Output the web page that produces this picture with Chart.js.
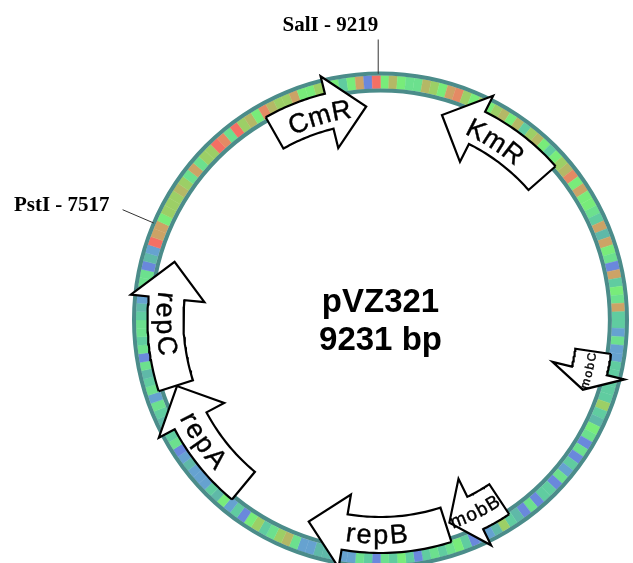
<!DOCTYPE html>
<html>
<head>
<meta charset="utf-8">
<title>pVZ321</title>
<script src="https://cdn.jsdelivr.net/npm/chart.js@4"></script>
<style>
  html, body { margin: 0; padding: 0; background: #fff; overflow: hidden; height: 563px; }
  canvas { display: block; filter: blur(0.5px); }
</style>
</head>
<body>
<canvas id="plasmid" width="633" height="570"></canvas>
<script>
/* ===== Dados do plasmídeo ===== */
const plasmidName = 'pVZ321';
const plasmidLength = 9231;

const geneNames = ['repB', 'mobB', 'mobC', 'KmR', 'CmR', 'repA', 'repC'];
const geneStarts = [4161, 3756, 2523, 1249, 8474, 5631, 6467];
const geneEnds = [5118, 4134, 2795, 428, 9133, 6462, 7328];

const siteNames = ['SalI', 'PstI'];
const sitePositions = [9219, 7517];

// Conteúdo local por janela (nível 0 a 10), sentido horário a partir do topo
const contentLevels = [
  5, 7, 5, 4, 4, 7, 6, 5, 8, 9, 6, 5, 6, 5, 6, 7, 5, 7, 3, 6,
  7, 5, 3, 5, 6, 7, 9, 5, 8, 5, 5, 4, 3, 8, 2, 8, 5, 4, 0, 8,
  3, 5, 4, 8, 3, 3, 1, 4, 1, 1, 3, 3, 3, 3, 3, 6, 3, 2, 5, 4,
  0, 4, 0, 3, 1, 4, 0, 3, 3, 0, 4, 0, 2, 3, 6, 2, 1, 1, 0, 3,
  5, 4, 3, 4, 3, 0, 3, 5, 3, 4, 0, 3, 4, 1, 1, 1, 2, 2, 1, 1,
  4, 7, 6, 4, 3, 6, 5, 0, 3, 1, 5, 2, 3, 1, 1, 1, 2, 1, 0, 4,
  3, 3, 2, 3, 4, 1, 4, 3, 2, 4, 0, 4, 3, 4, 4, 3, 2, 1, 2, 4,
  4, 0, 2, 1, 10, 8, 8, 5, 6, 6, 6, 7, 6, 4, 8, 4, 6, 6, 10, 9,
  4, 10, 6, 7, 5, 9, 7, 6, 6, 8, 5, 5, 6, 5, 5, 3, 5, 8, 0, 10
];

/* ===== Paleta e geometria ===== */
const LEVEL_COLORS = [
  '#6a88dc', '#66a2d0', '#5fb9a8', '#60cca0', '#6ce08e', '#78ec7a',
  '#9ccf66', '#b4b866', '#cca366', '#e48a64', '#f47064'
];
const RIM_COLOR = '#4b8c8a';
const RING_RADIUS = 248.5;
const BODY_INNER = 197;
const BODY_OUTER = 233;
const BODY_MID = 214;
const HEAD_INNER = 177;
const HEAD_OUTER = 251;
const HEAD_MAX_BP = 256;
const LABEL_FONTS = { repB: 27, mobB: 19, mobC: 12, KmR: 27, CmR: 27, repA: 27, repC: 27 };
const LABEL_TRACKING = { repB: 1.5, mobB: 1, mobC: 1.5, KmR: 1.5, CmR: 1.5, repA: 1.5, repC: 1.5 };

function polar(bp, r) {
  const a = bp / plasmidLength * 2 * Math.PI;
  return { x: r * Math.sin(a), y: r * Math.cos(a) };
}

// Contorno da seta: corpo curvo + cabeça
function arrowOutline(start, end) {
  const dir = end > start ? 1 : -1;
  const span = Math.abs(end - start);
  const neck = end - dir * Math.min(HEAD_MAX_BP, span / 2);
  const pts = [];
  const steps = 24;
  for (let i = 0; i <= steps; i++) {
    pts.push(polar(start + (neck - start) * i / steps, BODY_OUTER));
  }
  pts.push(polar(neck, HEAD_OUTER), polar(end, BODY_MID), polar(neck, HEAD_INNER));
  for (let i = steps; i >= 0; i--) {
    pts.push(polar(start + (neck - start) * i / steps, BODY_INNER));
  }
  pts.push(pts[0]);
  return pts;
}

/* ===== Textos ===== */
const labelsPlugin = {
  id: 'plasmidLabels',
  afterDatasetsDraw(chart) {
    const { ctx, scales: { x, y } } = chart;
    const cx = x.getPixelForValue(0);
    const cy = y.getPixelForValue(0);

    ctx.save();
    ctx.fillStyle = '#000';
    ctx.strokeStyle = '#000';
    ctx.lineWidth = 0.4;
    ctx.textAlign = 'center';
    ctx.textBaseline = 'alphabetic';

    geneNames.forEach((name, i) => {
      const midBp = (geneStarts[i] + geneEnds[i]) / 2;
      const mid = midBp / plasmidLength * 2 * Math.PI;
      const deg = mid * 180 / Math.PI;
      const inward = deg > 90 && deg < 300;
      const size = LABEL_FONTS[name];
      const track = LABEL_TRACKING[name];
      ctx.font = size + 'px "Liberation Sans"';

      const widths = [...name].map(c => ctx.measureText(c).width);
      const total = widths.reduce((a, b) => a + b, 0) + track * (name.length - 1);
      const radius = inward ? BODY_MID + size * 0.36 : BODY_MID - size * 0.36;
      let s = -total / 2;
      [...name].forEach((c, j) => {
        const along = (s + widths[j] / 2) / BODY_MID;
        const a = inward ? mid - along : mid + along;
        ctx.save();
        ctx.translate(cx + radius * Math.sin(a), cy - radius * Math.cos(a));
        ctx.rotate(inward ? a - Math.PI : a);
        ctx.fillText(c, 0, 0);
        ctx.strokeText(c, 0, 0);
        ctx.restore();
        s += widths[j] + track;
      });
    });

    // Nome e tamanho no centro
    ctx.font = 'bold 33px "Liberation Sans"';
    ctx.fillText(plasmidName, cx, cy - 8);
    ctx.fillText(plasmidLength + ' bp', cx, cy + 30);

    // Sítios de restrição
    ctx.font = 'bold 21px "Liberation Serif"';
    ctx.textAlign = 'right';
    siteNames.forEach((name, i) => {
      const end = polar(sitePositions[i], RING_RADIUS + 32);
      const px = x.getPixelForValue(end.x);
      const py = y.getPixelForValue(end.y);
      const nearTop = Math.abs(end.x) < 30;
      ctx.fillText(name + ' - ' + sitePositions[i], nearTop ? px : px - 13, nearTop ? py - 9 : py + 1);
    });
    ctx.restore();
  }
};

/* ===== Datasets ===== */
const rimRing = weight => ({
  type: 'doughnut',
  data: [1],
  weight: weight,
  backgroundColor: [RIM_COLOR],
  borderWidth: 0,
  order: 20,
});

const bandRing = {
  type: 'doughnut',
  data: contentLevels.map(() => 1),
  weight: 13,
  backgroundColor: contentLevels.map(v => LEVEL_COLORS[v]),
  borderColor: contentLevels.map(v => LEVEL_COLORS[v]),
  borderWidth: 0.4,
  order: 21,
};

const geneArrows = geneNames.map((name, i) => ({
  type: 'line',
  label: name,
  data: arrowOutline(geneStarts[i], geneEnds[i]),
  weight: 0,
  borderColor: '#000',
  borderWidth: 2.2,
  borderJoinStyle: 'miter',
  backgroundColor: '#fff',
  fill: 'shape',
  tension: 0,
  pointRadius: 0,
  clip: false,
  order: 10 - i,
}));

const siteTicks = siteNames.map((name, i) => ({
  type: 'line',
  label: name,
  data: [polar(sitePositions[i], RING_RADIUS - 2), polar(sitePositions[i], RING_RADIUS + 32)],
  weight: 0,
  borderColor: '#333',
  borderWidth: 1,
  fill: false,
  pointRadius: 0,
  clip: false,
  order: 15,
}));

new Chart(document.getElementById('plasmid'), {
  type: 'scatter',
  data: {
    datasets: [rimRing(4), bandRing, rimRing(4), ...siteTicks, ...geneArrows],
  },
  plugins: [labelsPlugin],
  options: {
    responsive: false,
    animation: false,
    cutout: '91.5%',
    layout: { padding: { left: 132, right: 4, top: 71.5, bottom: 1.5 } },
    scales: {
      x: { type: 'linear', display: false, min: -RING_RADIUS, max: RING_RADIUS },
      y: { type: 'linear', display: false, min: -RING_RADIUS, max: RING_RADIUS },
    },
    plugins: { legend: { display: false }, tooltip: { enabled: false }, title: { display: false } },
  },
});
</script>
</body>
</html>
